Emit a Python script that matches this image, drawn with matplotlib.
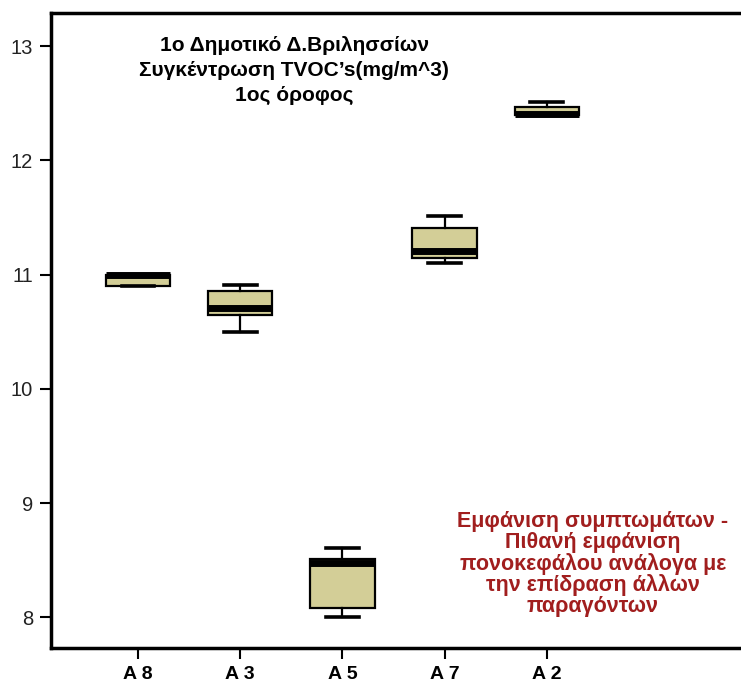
import matplotlib
matplotlib.use("Agg")
import matplotlib.pyplot as plt

# values (mg/m^3)
labels = ["A 8", "A 3", "A 5", "A 7", "A 2"]
whislo = [10.90, 10.50, 8.00, 11.10, 12.40]
q1 = [10.90, 10.65, 8.08, 11.15, 12.40]
med = [11.00, 10.71, 8.48, 11.21, 12.41]
q3 = [11.00, 10.86, 8.51, 11.41, 12.47]
whishi = [11.00, 10.91, 8.61, 11.51, 12.51]
yticks = [8, 9, 10, 11, 12, 13]

title_lines = ["1ο Δημοτικό Δ.Βριλησσίων",
               "Συγκέντρωση TVOC’s(mg/m^3)",
               "1ος όροφος"]
note = ("Εμφάνιση συμπτωμάτων -\nΠιθανή εμφάνιση\n"
        "πονοκεφάλου ανάλογα με\nτην επίδραση άλλων\nπαραγόντων")

plt.rcParams["font.family"] = ["Liberation Sans", "DejaVu Sans"]

stats = [dict(label=l, whislo=a, q1=b, med=c, q3=d, whishi=e, fliers=[])
         for l, a, b, c, d, e in zip(labels, whislo, q1, med, q3, whishi)]

fig = plt.figure(figsize=(7.41, 6.86), dpi=100)
ax = fig.add_axes([0.069, 0.055, 0.96, 0.926])
pos = list(range(1, len(labels) + 1))
ax.bxp(stats, positions=pos, widths=0.63, patch_artist=True,
       boxprops=dict(facecolor="#D3CE97", edgecolor="black", linewidth=1.6),
       medianprops=dict(color="black", linewidth=5, solid_capstyle="butt"),
       whiskerprops=dict(color="black", linewidth=1.6),
       capprops=dict(color="black", linewidth=2.6),
       capwidths=0.32)

ax.set_xlim(0.15, 7.11)
ax.set_ylim(7.73, 13.29)
ax.set_yticks(yticks)
ax.set_yticklabels([str(t) for t in yticks], fontsize=14.5, color="#222222")
ax.set_xticks(pos)
ax.set_xticklabels(labels, fontsize=14, fontweight="bold")
ax.tick_params(direction="out", length=8, width=1.5, pad=5)
for s in ax.spines.values():
    s.set_linewidth(2.5)

ax.text(2.53, 13.09, "\n".join(title_lines), ha="center", va="top",
        fontsize=15, fontweight="bold", linespacing=1.4)
ax.text(5.45, 8.93, note, ha="center", va="top", fontsize=15.5,
        fontweight="bold", color="#A11E1E", linespacing=0.98)

fig.savefig("out.png", dpi=100)
